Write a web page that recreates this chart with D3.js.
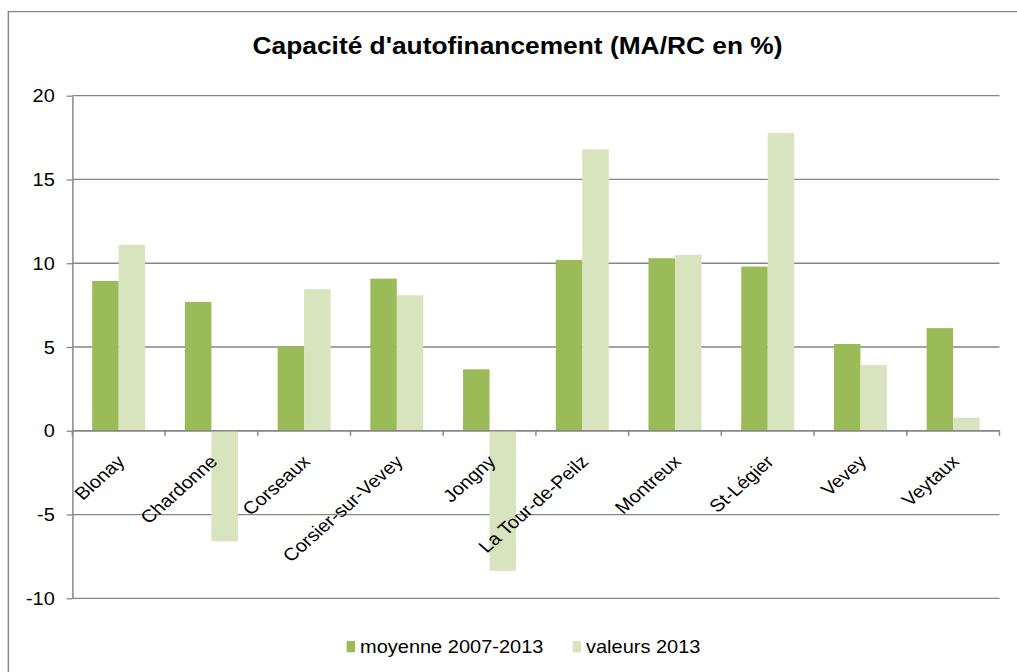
<!DOCTYPE html>
<html>
<head>
<meta charset="utf-8">
<script src="https://cdn.jsdelivr.net/npm/d3@7"></script>
<style>
  html, body { margin: 0; padding: 0; background: #fff; overflow: hidden; }
  svg { display: block; }
  text { font-family: "Liberation Sans", Arial, sans-serif; fill: #000; }
</style>
</head>
<body>
<svg id="chart" width="1017" height="672" viewBox="0 0 900 672" preserveAspectRatio="none"></svg>
<script>
const categories = ["Blonay", "Chardonne", "Corseaux", "Corsier-sur-Vevey", "Jongny",
  "La Tour-de-Peilz", "Montreux", "St-Légier", "Vevey", "Veytaux"];
const seriesNames = ["moyenne 2007-2013", "valeurs 2013"];
const moyenne = [8.94, 7.69, 5.0, 9.08, 3.67, 10.2, 10.3, 9.8, 5.18, 6.13];
const valeurs2013 = [11.1, -6.6, 8.45, 8.09, -8.36, 16.8, 10.5, 17.77, 3.92, 0.78];
const yTicks = [-10, -5, 0, 5, 10, 15, 20];
const yTickLabels = ["-10", "-5", "0", "5", "10", "15", "20"];
const titleText = "Capacité d'autofinancement (MA/RC en %)";

const colors = ["#9BBB59", "#D7E4BD"];
const gray = "#868686";
const seriesValues = [moyenne, valeurs2013];

const svg = d3.select("#chart");
const L = 64.0, R = 884.5, T = 95.7, B = 598.3;

// outer border (top and left visible)
svg.append("path").attr("d", "M7.4,700V11.7H900")
  .attr("fill", "none").attr("stroke", gray).attr("stroke-width", 1.3);

const y = d3.scaleLinear().domain([-10, 20]).range([B, T]);
const x0 = d3.scaleBand().domain(categories).range([L, R]).padding(0);
const step = x0.step();
const x1 = d3.scaleBand().domain(seriesNames).range([step * 1.5 / 7, step * 5.5 / 7]).padding(0);

// gridlines
svg.append("g").selectAll("line").data(yTicks).join("line")
  .attr("x1", L).attr("x2", R)
  .attr("y1", d => y(d)).attr("y2", d => y(d))
  .attr("stroke", gray).attr("stroke-width", 1.3);

// bars
const table = categories.map((c, i) => ({ cat: c, vals: seriesNames.map((s, j) => ({ s, j, v: seriesValues[j][i] })) }));
const groups = svg.append("g").selectAll("g").data(table).join("g")
  .attr("transform", d => `translate(${x0(d.cat)},0)`);
groups.selectAll("rect").data(d => d.vals).join("rect")
  .attr("x", d => x1(d.s))
  .attr("width", x1.bandwidth())
  .attr("y", d => y(Math.max(0, d.v)))
  .attr("height", d => Math.abs(y(d.v) - y(0)))
  .attr("fill", d => colors[d.j]);

// y axis
const yAxis = svg.append("g").attr("transform", `translate(${L},0)`)
  .call(d3.axisLeft(y).tickValues(yTicks)
    .tickFormat((d, i) => yTickLabels[i])
    .tickSize(5).tickPadding(10.5).tickSizeOuter(0));
yAxis.select(".domain").attr("stroke", gray).attr("stroke-width", 1.3);
yAxis.selectAll(".tick line").attr("stroke", gray).attr("stroke-width", 1.3);
yAxis.selectAll(".tick text").attr("font-size", "17.7px").attr("fill", "#000")
  .attr("font-family", "Liberation Sans, Arial, sans-serif").attr("dy", "0.35em");

// x axis at zero
const boundaries = categories.map(c => x0(c)).concat([R]);
svg.append("line").attr("x1", L).attr("x2", R).attr("y1", y(0)).attr("y2", y(0))
  .attr("stroke", gray).attr("stroke-width", 1.3);
svg.append("g").selectAll("line").data(boundaries).join("line")
  .attr("x1", d => d).attr("x2", d => d)
  .attr("y1", y(0)).attr("y2", y(0) + 5)
  .attr("stroke", gray).attr("stroke-width", 1.3);

// category labels
svg.append("g").selectAll("text").data(categories).join("text")
  .attr("transform", c => `translate(${x0(c) + step / 2 - 2.6},${y(0) + 23}) rotate(-45)`)
  .attr("text-anchor", "end")
  .attr("dy", "0.72em")
  .attr("font-size", "17.7px")
  .text(c => c);

// title
svg.append("text").attr("x", 458).attr("y", 54.3).attr("text-anchor", "middle")
  .attr("font-size", "23.3px").attr("font-weight", "bold").text(titleText);

// legend
const legendX = [306.8, 506.8];
const lg = svg.append("g").selectAll("g").data(seriesNames).join("g")
  .attr("transform", (d, i) => `translate(${legendX[i]},0)`);
lg.append("rect").attr("x", 0).attr("y", 641).attr("width", 7.4).attr("height", 11.3)
  .attr("fill", (d, i) => colors[i]);
lg.append("text").attr("x", 11.8).attr("y", 653).attr("font-size", "17.7px").text(d => d);
</script>
</body>
</html>
